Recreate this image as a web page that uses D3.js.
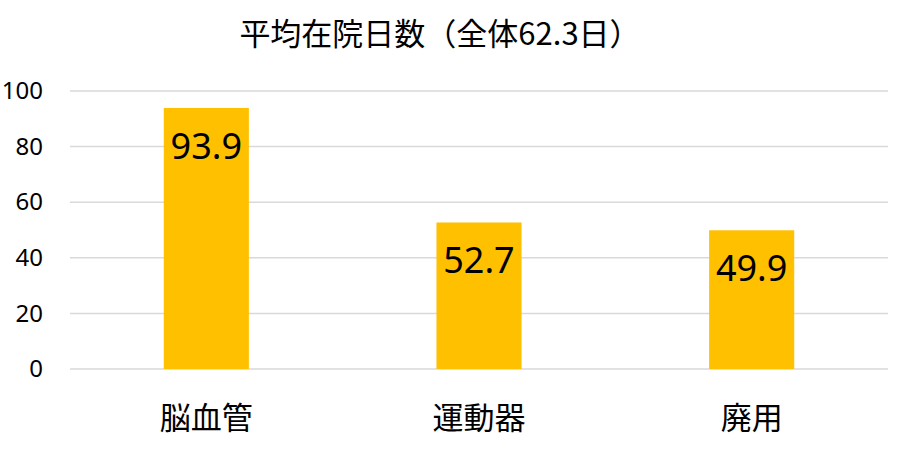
<!DOCTYPE html>
<html><head><meta charset="utf-8">
<script src="https://cdn.jsdelivr.net/npm/d3@7"></script>
<style>body{margin:0;background:#fff}svg{display:block}</style>
</head><body>
<svg id="c" width="900" height="455"></svg>
<script>
const categories = ["脳血管", "運動器", "廃用"];
const values = [93.9, 52.7, 49.9];
const yTicks = [0, 20, 40, 60, 80, 100];
const title = "平均在院日数（全体62.3日）";

const svg = d3.select("#c");
const W = 900, H = 455;
const m = {left: 70, right: 12, top: 91, bottom: 86};
const x = d3.scaleBand().domain(categories).range([m.left, W - m.right]).padding(0);
const y = d3.scaleLinear().domain([0, 100]).range([H - m.bottom, m.top]);
const barW = x.bandwidth() * 0.312;
const font = "'Noto Sans CJK JP','Noto Sans',sans-serif";

// gridlines
svg.append("g").selectAll("line").data(yTicks).join("line")
  .attr("x1", m.left).attr("x2", W - m.right)
  .attr("y1", d => y(d)).attr("y2", d => y(d))
  .attr("stroke", "#d9d9d9").attr("stroke-width", 1.5);

// y axis labels
const yAxis = d3.axisLeft(y).tickValues(yTicks).tickSize(0).tickPadding(0);
const ga = svg.append("g").attr("transform", `translate(${m.left - 27},0)`).call(yAxis);
ga.select(".domain").remove();
ga.selectAll("text").attr("font-family", "'Noto Sans',sans-serif").attr("font-size", 24).attr("fill", "#000");

// bars
svg.append("g").selectAll("rect").data(values).join("rect")
  .attr("x", (d, i) => x(categories[i]) + x.bandwidth() / 2 - barW / 2)
  .attr("width", barW)
  .attr("y", d => y(d))
  .attr("height", d => y(0) - y(d))
  .attr("fill", "#FFC000");

// value labels
svg.append("g").selectAll("text").data(values).join("text")
  .attr("x", (d, i) => x(categories[i]) + x.bandwidth() / 2)
  .attr("y", d => y(d) + 51)
  .attr("text-anchor", "middle")
  .attr("font-family", "'Noto Sans',sans-serif")
  .attr("font-size", 36)
  .attr("fill", "#000")
  .text(d => d.toFixed(1));

// category labels
svg.append("g").selectAll("text").data(categories).join("text")
  .attr("x", d => x(d) + x.bandwidth() / 2)
  .attr("y", 429)
  .attr("text-anchor", "middle")
  .attr("font-family", font)
  .attr("font-size", 31)
  .attr("fill", "#000")
  .text(d => d);

// title
svg.append("text")
  .attr("x", 440).attr("y", 45)
  .attr("text-anchor", "middle")
  .attr("font-family", font)
  .attr("font-size", 31)
  .attr("fill", "#000")
  .text(title);
</script>
</body></html>
